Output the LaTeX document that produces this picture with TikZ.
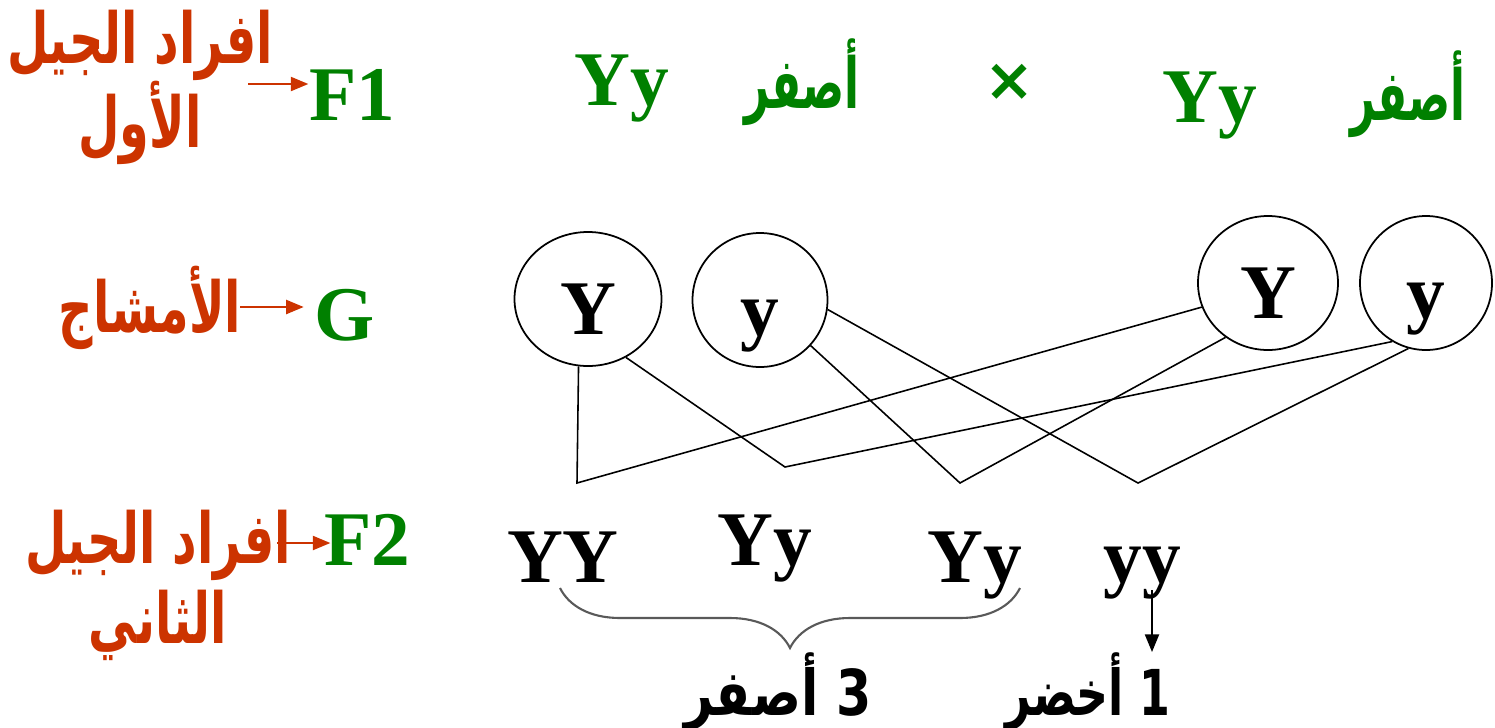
\documentclass[tikz,border=0pt]{standalone}
\usepackage{graphicx}
\usepackage{fontspec}
\setmainfont{Liberation Serif}
\newfontfamily\arabicfont[Script=Arabic]{DejaVu Sans}
\TeXXeTstate=1
\usetikzlibrary{arrows.meta, shapes.geometric, decorations.pathreplacing}
\definecolor{LblRed}{RGB}{204, 51, 0}
\definecolor{GenGreen}{RGB}{0, 128, 0}
\newcommand{\artxt}[2][0.68]{\scalebox{#1}[1]{\arabicfont\bfseries\beginR #2\endR}}

\begin{document}
\begin{tikzpicture}[
  every node/.style={inner sep=0pt},
  lbl/.style={text=LblRed, font=\fontsize{20}{24}\selectfont, anchor=base},
  gen/.style={text=GenGreen, font=\fontsize{22}{24}\selectfont\bfseries, anchor=base},
  geno/.style={font=\fontsize{22}{24}\selectfont\bfseries, anchor=base},
  sumlbl/.style={font=\fontsize{18}{22}\selectfont, anchor=base},
  gamete/.style={draw, ellipse, line width=0.5pt, font=\fontsize{22}{24}\selectfont\bfseries,
                 text height=20pt, text depth=0pt,
                 minimum width=1.40cm, minimum height=1.34cm},
  link/.style={line width=0.45pt},
  redarr/.style={-{Triangle[length=5pt, width=4pt]}, draw=LblRed, line width=0.6pt},
  arr/.style={-{Triangle[length=5pt, width=4pt]}, line width=0.5pt},
  brc/.style={decorate, decoration={brace, mirror, amplitude=0.6cm}, draw=black!65, line width=0.6pt}
]
  \useasboundingbox (0,0) rectangle (14.95,-7.27);

  %% Row labels
  \node[lbl] (gen1a)  at (1.40,-0.63) {\artxt{افراد الجيل}};
  \node[lbl] (gen1b)  at (1.40,-1.47) {\artxt{الأول}};
  \node[gen] (F1)     at (3.52,-1.20) {F1};
  \node[lbl] (gamlbl) at (1.50,-3.32) {\artxt{الأمشاج}};
  \node[gen] (G)      at (3.45,-3.40) {G};
  \node[lbl] (gen2a)  at (1.58,-5.63) {\artxt{افراد الجيل}};
  \node[lbl] (gen2b)  at (1.58,-6.43) {\artxt{الثاني}};
  \node[gen] (F2)     at (3.67,-5.65) {F2};

  %% Parents
  \node[gen] (p1geno) at (6.22,-1.05) {Yy};
  \node[gen, font=\fontsize{20}{24}\selectfont] (p1phen) at (8.02,-1.08) {\artxt[0.62]{أصفر}};
  \node[gen, anchor=center, font=\fontsize{17}{18}\selectfont\arabicfont\bfseries] (cross) at (10.10,-0.82) {×};
  \node[gen] (p2geno) at (12.10,-1.22) {Yy};
  \node[gen, font=\fontsize{20}{24}\selectfont] (p2phen) at (14.08,-1.20) {\artxt[0.62]{أصفر}};

  %% Gametes
  \node[gamete, minimum width=1.47cm] (gY1) at (5.88,-2.99) {Y};
  \node[gamete, minimum width=1.35cm] (gy1) at (7.60,-3.00) {y};
  \node[gamete]                       (gY2) at (12.68,-2.83) {Y};
  \node[gamete, minimum width=1.32cm] (gy2) at (14.26,-2.83) {y};

  %% Offspring
  \node[geno] (oYY)  at (5.63,-5.82) {YY};
  \node[geno] (oYy1) at (7.65,-5.65) {Yy};
  \node[geno] (oYy2) at (9.75,-5.82) {Yy};
  \node[geno] (oyy)  at (11.42,-5.82) {yy};
  \node[sumlbl] (yellow) at (7.78,-7.15) {\artxt[0.8]{3 أصفر}};
  \node[sumlbl] (green)  at (10.88,-7.15) {\artxt[0.7]{1 أخضر}};

  %% Label arrows
  \coordinate (t1) at (2.48,-0.84);
  \coordinate (t2) at (2.40,-3.07);
  \coordinate (t3) at (2.77,-5.43);
  \draw[redarr] (t1) -- (t1 -| F1.west);
  \draw[redarr] (t2) -- ([xshift=-3pt]t2 -| G.west);
  \draw[redarr] (t3) -- ([xshift=2pt]t3 -| F2.west);

  %% Crossing lines
  \coordinate (j1) at (5.77,-4.83);
  \coordinate (j2) at (7.85,-4.67);
  \coordinate (j3) at (9.60,-4.83);
  \coordinate (j4) at (11.38,-4.83);
  \draw[link] (gY1.262) -- (j1) -- (gY2.200);
  \draw[link] (gY1.303) -- (j2) -- (gy2.240);
  \draw[link] (gy1.318) -- (j3) -- (gY2.232);
  \draw[link] (gy1.352) -- (j4) -- (gy2.255);

  %% Brace and arrow to ratio
  \coordinate (bL) at (5.60,-5.88);
  \coordinate (bR) at (10.20,-5.88);
  \draw[brc] (bL) -- (bR);
  \coordinate (a1) at (11.52,-5.90);
  \draw[arr] (a1) -- ++(0,-0.62);
\end{tikzpicture}
\end{document}
